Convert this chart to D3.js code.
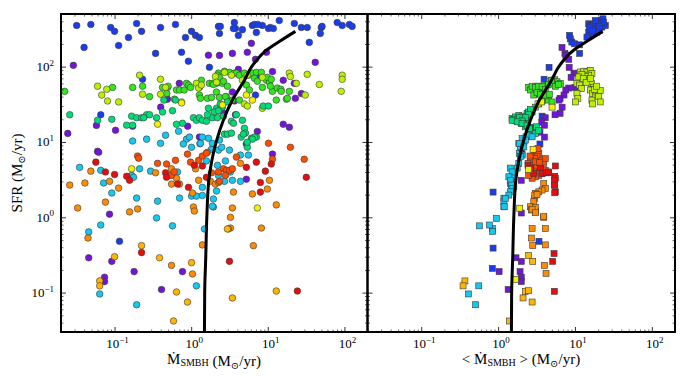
<!DOCTYPE html>
<html>
<head>
<meta charset="utf-8">
<script src="https://cdn.jsdelivr.net/npm/d3@7"></script>
<style>
  body { margin: 0; background: #fff; }
  svg { display: block; }
  text { font-family: "Liberation Serif", "DejaVu Serif", serif; fill: #000; }
</style>
</head>
<body>
<div class="container"></div>
<script>
// tick values and their exponent labels (10^e)
const xTicks = [0.1, 1, 10, 100];
const xTickExps = ["\u22121", "0", "1", "2"];
const yTicks = [0.1, 1, 10, 100];
const yTickExps = ["\u22121", "0", "1", "2"];

// model curve: Mdot (x) and SFR (y)
const curveMdot = [1.49, 1.5, 1.55, 1.6, 1.7, 1.85, 2.12, 2.63, 3.45, 4.95, 6.16, 9.5, 15, 22.9];
const curveSfr  = [0.03, 0.1, 0.3, 1, 3.1, 5.5, 10, 19.4, 36, 66, 100, 164, 224, 294];

// ---- left panel: instantaneous Mdot vs SFR, [Mdot, SFR] ----
const blueL = [[0.032,352],[0.049,363],[0.040,180],[0.089,331],[0.10,294],[0.113,191],[0.152,244],[0.194,374],[0.225,294],[0.343,150],[0.398,331],[0.624,363],[0.748,155],[0.843,244],[0.92,118],[1.01,294],[1.14,260],[1.28,244],[1.73,98],[2.27,342],[2.34,276],[3.66,386],[3.78,321],[4.13,260],[6.29,352],[7.09,285],[8.49,352],[10.2,321],[14.1,410],[22.2,374],[27.4,331],[32.7,331],[34.8,210],[49.9,331],[48.4,276],[80.5,386],[93.5,352],[116,363],[126,342],[6.7,363],[7.4,363],[10.8,331],[11.8,321],[51,342],[3.56,321],[4.66,310],[2.4,342],[0.116,0.48],[0.066,23],[5.25,9.4],[0.232,68],[7.09,74],[6.9,42]];
const violetL = [[0.029,104],[0.0245,13],[0.058,16.6],[0.060,7.5],[0.103,14.3],[0.172,16.2],[0.40,29],[0.49,37],[0.70,60],[1.28,53],[0.90,16.2],[1.28,11.6],[1.68,142],[2.34,141],[3.45,46],[4.13,92],[3.78,23],[5.4,155],[6.1,204],[6.9,125],[9.6,155],[11.5,86],[15.9,66],[22.2,60],[22.9,38],[27.4,44],[41.6,114],[15.9,17.2],[19.1,15.7],[11.5,6.9],[5.25,3.2],[0.086,1.1],[0.046,0.29],[0.092,0.26],[0.18,0.19],[0.074,0.16],[0.074,0.14],[0.41,0.11],[0.77,0.19],[0.062,7.3],[7.3,13.8],[3.45,150],[3.66,35],[2.64,24]];
const greenL = [[0.0223,47],[0.094,53],[0.172,53],[0.232,55],[0.286,40],[0.423,53],[0.491,53],[0.605,37],[0.643,49],[0.705,49],[0.81,49],[0.869,60],[0.922,57],[0.98,53],[1.28,42],[1.32,38],[1.36,66],[1.63,38],[1.84,39],[2.14,46],[2.34,39],[1.73,60],[1.89,60],[2.14,60],[2.34,62],[2.56,60],[2.27,82],[2.72,87],[3.16,84],[3.66,82],[3.89,82],[4.26,77],[4.95,82],[5.58,77],[6.29,82],[7.09,84],[8.24,84],[6.7,70],[7.3,64],[8.5,53],[9.6,66],[10.5,62],[11.5,47],[13.3,52],[14.8,50],[19.1,47],[17.5,37],[3.45,36],[4.26,36],[2.88,40],[5.25,57],[5.75,49],[2.2,77],[2.34,72],[1.95,58],[2.64,64],[2.97,55],[2.8,40],[12.9,36],[15,47],[18,38],[9.86,72],[11.1,68],[10.8,55],[0.5,55],[0.48,44]];
const springL = [[0.026,23],[0.06,19.4],[0.092,20],[0.144,16.7],[0.172,16.7],[0.167,22],[0.194,21],[0.225,21],[0.262,23],[0.353,21],[0.423,25],[0.57,26],[0.77,17.7],[1.07,21],[1.17,19.4],[1.28,21],[1.4,19.4],[1.58,18.8],[1.89,21],[2.2,21],[1.63,23],[2.14,28],[2.56,29],[2.97,34],[3.89,23],[4.95,15.2],[5.1,13.1],[6.11,11.2],[7.09,11.6],[5.41,8.5],[0.643,17.2],[0.624,36],[0.44,36],[0.286,23],[0.24,21],[1.68,28],[2.4,32],[2.0,25],[2.27,26],[2.64,22],[4.66,19.4],[3.35,18.8],[8.7,30],[10.2,30],[4.5,11.6],[4.8,12.7],[6.7,11.6],[6.3,10.9],[5.4,9.9],[2.72,12.7],[2.97,12.7],[3.35,13.1],[3.56,17.7]];
const yellowGreenL = [[0.212,77],[0.232,43],[0.079,50],[0.068,42],[0.081,35],[0.113,34],[0.398,68],[0.398,43],[0.463,53],[0.748,34],[1.17,60],[1.25,52],[1.36,57],[2.07,74],[2.14,62],[2.72,84],[3.35,77],[4.66,66],[5.41,77],[8.49,72],[19.1,82],[19.7,74],[23.6,60],[32.7,79],[47,58],[30.8,42],[93.5,77],[93.5,68],[90.8,47],[4.95,32],[5.41,30],[8.49,28],[0.06,55]];
const yellowL = [[0.364,17.2],[2.56,31],[0.167,4.4],[7.3,1.33],[0.75,33],[5.25,42],[6.29,36]];
const cyanL = [[0.035,4.6],[0.066,4.2],[0.072,2.85],[0.092,2.1],[0.167,3.6],[0.177,3.4],[0.212,4.4],[0.295,4.1],[0.663,4.0],[0.705,1.8],[0.194,1.8],[0.364,1.64],[0.353,0.98],[0.57,0.77],[0.066,0.79],[1.01,1.91],[1.17,1.91],[1.4,2.5],[1.3,9.5],[1.84,8.0],[1.63,7.3],[1.58,5.6],[4.39,6.7],[5.58,6.7],[2.8,5.6],[3.16,7.8],[3.45,3.1],[4.39,3.0],[3.25,4.0],[2.2,4.9],[2.27,3.6],[2.14,2.23],[1.95,1.75],[1.95,1.37],[2.72,3.0],[0.046,0.64],[0.194,0.069],[0.064,0.096],[1.17,0.123],[1.49,0.70],[1.4,1.95],[1.89,1.4],[2.27,7.8],[2.5,8.5],[0.869,10.9],[0.95,11.6],[1.01,8.5],[1.68,11.2],[1.89,9.6],[2.34,10.6],[0.262,10.9],[0.398,9.6],[0.463,12.3],[0.684,13.9],[0.79,9.4],[1.32,9.6],[1.4,11.6],[0.172,10.3]];
const orangeL = [[0.026,2.68],[0.049,4.1],[0.086,3.0],[0.113,2.44],[0.076,1.59],[0.033,1.33],[0.157,1.18],[0.2,1.29],[0.343,3.9],[0.554,4.4],[0.554,2.76],[0.643,3.3],[0.705,2.76],[1.14,4.4],[1.25,3.1],[1.04,2.1],[1.07,1.37],[1.1,1.21],[1.78,3.0],[4.39,5.2],[6.29,2.04],[3.56,2.16],[3.25,1.0],[2.07,2.76],[2.27,2.9],[10.5,3.1],[9.86,2.37],[3.25,0.72],[3.06,0.70],[8.24,0.72],[0.041,2.85],[0.045,0.53],[1.4,0.43],[6.48,0.42],[12.9,1.46],[0.554,0.23],[1.04,0.177],[3.45,1.33]];
const redOrangeL = [[0.2,6.5],[0.206,6.1],[0.364,5.2],[0.477,5.1],[0.624,5.7],[0.895,6.9],[0.98,5.4],[1.25,5.7],[1.4,6.5],[1.58,7.1],[1.84,3.9],[3.89,6.3],[10.2,9.6],[19.7,8.5],[29.9,5.9],[11.5,5.9],[2.64,4.4],[2.88,4.2],[3.16,4.2],[3.45,4.4],[2.8,3.6],[2.27,4.0],[2.34,3.0],[0.55,3.6],[0.6,4.0]];
const redL = [[0.057,5.4],[0.076,4.0],[0.1,3.7],[0.144,3.5],[0.157,3.1],[0.463,3.9],[0.477,3.4],[0.663,2.76],[0.922,2.5],[1.1,4.9],[1.4,4.8],[1.58,3.4],[8.0,2.9],[8.0,2.16],[9.29,4.1],[11.1,5.1],[31.8,3.4],[5.25,4.6],[7.09,5.4],[0.225,0.34],[3.16,0.26],[24.3,0.105]];
const goldL = [[0.225,0.42],[0.1,0.30],[0.386,0.29],[1.01,0.25],[0.643,0.102],[0.895,0.075],[0.588,0.042],[0.064,0.143],[0.064,0.123],[2.97,0.70],[3.45,0.085],[12.9,0.105]];

// ---- right panel: time-averaged <Mdot> vs SFR ----
const blueR = [[15.1,371],[16.3,352],[17.5,363],[18.7,378],[20.3,371],[22,410],[23.1,432],[24.8,352],[22.4,335],[19.3,318],[16.6,318],[15.1,287],[15.8,260],[17.5,273],[19.3,287],[20.7,303],[23.6,390],[14.3,247],[15.3,335],[18.4,410],[21,340],[17,300],[8.5,260],[8.7,234],[9.1,212],[9.9,201],[11.5,195],[11.5,150],[4.6,98],[3.96,68],[3.84,41],[3.73,22],[3.5,9.4],[0.86,2.16],[0.86,0.39],[0.84,0.21],[3.4,0.48]];
const violetR = [[6.78,180],[7.4,150],[7.6,141],[8.3,125],[8.4,98],[9.7,82],[8.9,72],[10,53],[8.3,52],[7.6,49],[7.2,42],[6.4,38],[6.2,36],[6.8,29],[6.4,24],[5.5,23],[4.1,21],[3.7,18.3],[4.0,16.7],[3.5,13.5],[4.0,11.6],[2.9,15.2],[2.6,15.7],[2.0,7.3],[2.05,6.9],[2.0,3.1],[2.0,1.14],[1.71,0.29],[2.0,0.26],[1.93,0.19],[2.0,0.16],[2.0,0.14],[1.35,0.11],[1.03,0.19]];
const greenR = [[2.5,53],[2.77,50],[2.91,53],[3.21,55],[3.38,51],[3.65,53],[3.92,54],[4.33,57],[4.64,63],[5.03,66],[5.45,67],[5.84,63],[6.44,60],[3.73,48],[3.38,44],[3.05,46],[2.63,49],[2.91,42],[4.11,40],[4.55,36],[5.03,34],[2.77,55],[3.05,53],[3.38,55],[3.73,54],[4.11,50],[3.21,45],[3.54,43],[4.11,41],[4.55,58],[5.03,61],[5.55,55],[6.14,58],[4.92,66],[4.64,43],[3.73,35],[3.38,32],[3.05,29],[2.77,25]];
const springR = [[1.52,20.5],[1.68,21.5],[1.86,22.6],[2.05,21.5],[2.22,20.5],[2.38,18.5],[1.77,19],[1.95,18.5],[2.16,17.9],[1.68,19.4],[2.38,23.8],[2.5,25],[2.63,27],[2.26,15.9],[2.5,15.1],[2.77,14.3],[2.91,13.6],[3.05,13],[1.6,20],[1.9,21],[2.1,19.5],[2.3,22],[2.0,17.5],[2.5,23],[2.26,21],[2.05,19],[1.52,19.4],[1.77,18.5],[2.05,17.5],[2.38,16.7],[2.55,15.1],[3.15,15.9],[3.38,14.3]];
const yellowGreenR = [[11.7,85],[13,87],[14.3,85],[15.8,89],[16.6,81],[15.1,77],[13.6,74],[12.3,79],[11.2,73],[10.6,60],[11.4,57],[12.1,51],[15.1,66],[16.3,60],[17.5,53],[15.8,49],[17,44],[18.4,42],[19.3,46],[21.3,48],[20.3,40],[16.6,36],[17,32],[21.3,34],[10.6,44],[10.9,38],[10.1,34],[12.8,70],[14,62],[16,70],[18,50],[19,55]];
const yellowR = [[1.91,1.32],[1.68,0.15],[2.85,8],[2.5,4.3],[3.3,32],[5.03,29],[3.65,34]];
const cyanR = [[2.16,10],[1.95,8.6],[1.86,9.5],[2.31,11.7],[2.5,12.3],[2.77,11.7],[2.05,6.7],[1.86,5.2],[1.77,4.5],[1.6,3.8],[1.52,3.45],[1.44,2.8],[1.6,2.54],[2.05,11.1],[2.26,10.6],[1.91,9.5],[2.16,8.6],[1.89,7],[1.95,6.4],[1.44,4.5],[1.52,4.0],[1.38,3.45],[1.44,3.1],[1.49,2.68],[1.52,2.42],[1.44,2.18],[1.38,1.97],[1.19,1.79],[1.19,1.61],[1.24,1.79],[1.19,1.38],[1.2,1.38],[0.95,0.97],[0.84,0.71],[0.77,0.79],[0.85,0.65],[0.57,0.77],[0.56,0.123],[0.41,0.096],[0.51,0.069]];
const orangeR = [[3.92,2.8],[4.11,2.42],[3.73,2.3],[3.38,2.18],[3.05,2.08],[3.0,1.79],[2.91,1.61],[2.63,1.38],[2.71,1.25],[3.05,1.19],[3.92,1.0],[4.11,0.71],[2.77,0.71],[2.71,0.53],[2.82,0.42],[4.11,0.43],[4.0,0.23],[4.2,0.18],[3.0,1.97],[3.21,2.0],[3.05,1.36],[2.77,1.28],[3.05,1.15],[3.92,1.02]];
const redOrangeR = [[2.91,7.8],[3.12,7.4],[3.38,7.0],[3.21,6.4],[3.0,6.0],[2.63,5.7],[2.45,5.2],[2.82,4.9],[3.21,4.7],[3.73,5.7],[3.92,5.2],[3.54,4.5],[4.11,4.2],[3.73,3.8],[3.38,3.6],[3.05,3.45],[2.77,3.3],[2.5,3.6],[2.91,4.0],[2.63,4.5],[3.05,5.45],[3.44,5.3],[4.11,6.0],[2.6,6.5],[3.3,8.2]];
const redR = [[5.55,4.8],[5.45,3.5],[5.55,3.3],[5.45,2.68],[5.55,2.18],[4.55,3.9],[5.38,3.1],[5.38,2.68],[5.45,2.12],[5.34,0.33],[5.13,0.26],[5.38,0.104],[2.45,4.9],[2.63,4.5],[2.91,3.8],[3.54,4.5],[3.73,3.8],[4.2,3.9],[4.55,4.0]];
const goldR = [[2.5,0.31],[2.82,0.26],[2.26,0.104],[2.5,0.106],[2.11,0.085],[2.77,0.075],[1.4,0.042],[0.37,0.143],[0.35,0.123]];

const leftGroups = [
  ["blue", blueL], ["violet", violetL], ["green", greenL], ["yellowGreen", yellowGreenL],
  ["spring", springL], ["cyan", cyanL], ["orange", orangeL], ["redOrange", redOrangeL],
  ["red", redL], ["gold", goldL], ["yellow", yellowL]
];
const rightGroups = [
  ["blue", blueR], ["violet", violetR], ["yellowGreen", yellowGreenR], ["green", greenR],
  ["spring", springR], ["cyan", cyanR], ["orange", orangeR], ["gold", goldR],
  ["redOrange", redOrangeR], ["red", redR], ["yellow", yellowR]
];

const colors = {
  blue: "#1a3cf0", violet: "#7412e0", green: "#33e622", yellowGreen: "#bdf000",
  spring: "#00dc78", yellow: "#f2f200", cyan: "#14c8f0", orange: "#ff8c00",
  redOrange: "#ff4d00", red: "#e80c0c", gold: "#ffb400"
};

const width = 688, height = 376;
const plotTop = 14, plotBottom = 332;

const svg = d3.select(".container").append("svg")
  .attr("width", width).attr("height", height);

const y = d3.scaleLog().domain([0.03, 500]).range([plotBottom, plotTop]);
const xLeft = d3.scaleLog().domain([0.02, 200]).range([61, 367.5]);
const xRight = d3.scaleLog().domain([0.02, 200]).range([367.5, 675]);

const isPow = v => Math.abs(Math.log10(v) - Math.round(Math.log10(v))) < 1e-6;

function drawPanel(x, groups, shape, id, yLabels) {
  const [x0, x1] = x.range();
  const g = svg.append("g");

  g.append("clipPath").attr("id", id)
    .append("rect").attr("x", x0).attr("y", plotTop).attr("width", x1 - x0).attr("height", plotBottom - plotTop);

  const marks = g.append("g").attr("clip-path", `url(#${id})`);
  groups.forEach(([name, pts]) => {
    const sel = marks.append("g").selectAll("path").data(pts).enter();
    if (shape === "circle") {
      sel.append("circle")
        .attr("cx", d => x(d[0])).attr("cy", d => y(d[1])).attr("r", 3.3)
        .attr("fill", colors[name]).attr("stroke", "#3a3a3a").attr("stroke-width", 0.6);
    } else {
      sel.append("rect")
        .attr("x", d => x(d[0]) - 3).attr("y", d => y(d[1]) - 3)
        .attr("width", 6).attr("height", 6)
        .attr("fill", colors[name]).attr("stroke", "#3a3a3a").attr("stroke-width", 0.6);
    }
  });

  const line = d3.line().x(d => x(d[0])).y(d => y(d[1])).curve(d3.curveMonotoneY);
  marks.append("path")
    .datum(curveMdot.map((m, i) => [m, curveSfr[i]]))
    .attr("d", line).attr("fill", "none").attr("stroke", "#000").attr("stroke-width", 3);

  // ticks pointing inward on all four sides
  const minorX = x.ticks().filter(v => !isPow(v));
  const minorY = y.ticks().filter(v => !isPow(v));
  const axes = [
    [d3.axisBottom(x), `translate(0,${plotBottom})`, xTicks, minorX],
    [d3.axisTop(x), `translate(0,${plotTop})`, xTicks, minorX],
    [d3.axisLeft(y), `translate(${x0},0)`, yTicks, minorY],
    [d3.axisRight(y), `translate(${x1},0)`, yTicks, minorY]
  ];
  axes.forEach(([ax, tr, major, minor]) => {
    g.append("g").attr("transform", tr)
      .call(ax.tickValues(major).tickSize(-5).tickFormat(""))
      .call(s => s.select(".domain").remove())
      .call(s => s.selectAll("line").attr("stroke-width", 0.8));
    g.append("g").attr("transform", tr)
      .call(ax.tickValues(minor).tickSize(-2.5).tickFormat(""))
      .call(s => s.select(".domain").remove())
      .call(s => s.selectAll("line").attr("stroke-width", 0.6));
  });

  g.append("rect")
    .attr("x", x0).attr("y", plotTop).attr("width", x1 - x0).attr("height", plotBottom - plotTop)
    .attr("fill", "none").attr("stroke", "#000").attr("stroke-width", 2);

  xTicks.forEach((v, i) => {
    const t = g.append("text").attr("x", x(v) + 3).attr("y", plotBottom + 16)
      .attr("text-anchor", "middle").style("font-size", "13px");
    t.append("tspan").text("10");
    t.append("tspan").attr("dy", -5.5).style("font-size", "9px").text(xTickExps[i]);
  });

  if (yLabels) {
    yTicks.forEach((v, i) => {
      const t = g.append("text").attr("x", x0 - 7).attr("y", y(v) + 4.5)
        .attr("text-anchor", "end").style("font-size", "13px");
      t.append("tspan").text("10");
      t.append("tspan").attr("dy", -5.5).style("font-size", "9px").text(yTickExps[i]);
    });
  }
  return g;
}

drawPanel(xLeft, leftGroups, "circle", "clipL", true);
drawPanel(xRight, rightGroups, "square", "clipR", false);

// axis titles
function unitTail(t) {
  t.append("tspan").text(" (M");
  t.append("tspan").attr("dy", 3).style("font-size", "10px").text("\u2299");
  t.append("tspan").attr("dy", -3).text("/yr)");
}

const xl = svg.append("text").attr("x", 214).attr("y", 364)
  .attr("text-anchor", "middle").style("font-size", "15px");
xl.append("tspan").text("\u1E40");
xl.append("tspan").attr("dy", 2).style("font-size", "10px").text("SMBH");
xl.append("tspan").attr("dy", -2).text("");
unitTail(xl);

const xr = svg.append("text").attr("x", 521).attr("y", 364)
  .attr("text-anchor", "middle").style("font-size", "15px");
xr.append("tspan").text("< \u1E40");
xr.append("tspan").attr("dy", 2).style("font-size", "10px").text("SMBH");
xr.append("tspan").attr("dy", -2).text(" >");
unitTail(xr);

const yl = svg.append("text").attr("transform", "translate(22,173) rotate(-90)")
  .attr("text-anchor", "middle").style("font-size", "15px");
yl.append("tspan").text("SFR");
unitTail(yl);
</script>
</body>
</html>
